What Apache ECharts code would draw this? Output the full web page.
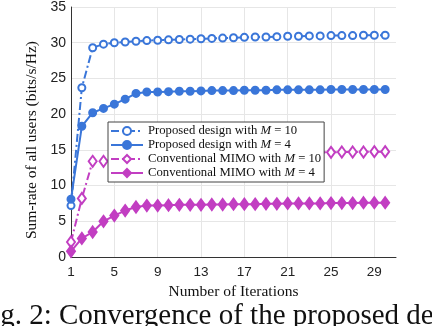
<!DOCTYPE html>
<html>
<head>
<meta charset="utf-8">
<script src="https://cdn.jsdelivr.net/npm/echarts@6/dist/echarts.min.js"></script>
<style>
  html, body { margin: 0; padding: 0; background: #fff; }
  #chart { width: 432px; height: 326px; }
</style>
</head>
<body>
<div id="chart"></div>
<script>
var iterations = []
for (var i = 1; i <= 30; i++) iterations.push(i)

var xTicks = [1, 5, 9, 13, 17, 21, 25, 29]
var yTicks = [0, 5, 10, 15, 20, 25, 30, 35]

var proposedM10 = [7.2, 23.7, 29.3, 29.8, 30.0, 30.1, 30.2, 30.3, 30.35, 30.4, 30.45, 30.5, 30.55, 30.6, 30.65, 30.7, 30.75, 30.8, 30.8, 30.85, 30.9, 30.9, 30.95, 30.95, 31.0, 31.0, 31.0, 31.05, 31.05, 31.05]
var proposedM4 = [8.1, 18.3, 20.2, 20.8, 21.4, 22.1, 22.9, 23.1, 23.1, 23.15, 23.2, 23.2, 23.25, 23.3, 23.3, 23.3, 23.35, 23.35, 23.35, 23.4, 23.4, 23.4, 23.4, 23.4, 23.45, 23.45, 23.45, 23.45, 23.45, 23.45]
var conventionalM10 = [2.1, 8.2, 13.4, 13.4, 13.6, 13.7, 13.8, 13.9, 14.0, 14.1, 14.15, 14.2, 14.25, 14.3, 14.35, 14.4, 14.4, 14.45, 14.5, 14.5, 14.55, 14.6, 14.6, 14.65, 14.65, 14.7, 14.7, 14.7, 14.75, 14.75]
var conventionalM4 = [0.8, 2.6, 3.5, 5.0, 5.8, 6.5, 7.0, 7.2, 7.2, 7.25, 7.3, 7.3, 7.3, 7.35, 7.35, 7.4, 7.4, 7.4, 7.45, 7.45, 7.5, 7.5, 7.5, 7.5, 7.55, 7.55, 7.55, 7.6, 7.6, 7.6]

var names = [
  'Proposed design with {i|M} = 10',
  'Proposed design with {i|M} = 4',
  'Conventional MIMO with {i|M} = 10',
  'Conventional MIMO with {i|M} = 4'
]

var blue = '#3a76d9'
var magenta = '#c23ec2'
var dashDot = [8, 3, 2, 3]
var serif = '"Liberation Serif", "DejaVu Serif", serif'
var sans = '"Liberation Sans", Arial, sans-serif'

function pairs (vals) {
  return vals.map(function (v, k) { return [iterations[k], v] })
}

function makeSeries (name, vals, color, dashed, symbol, size) {
  return {
    name: name,
    type: 'line',
    data: pairs(vals),
    symbol: symbol,
    symbolSize: size,
    showAllSymbol: true,
    lineStyle: { color: color, width: 2, type: dashed ? dashDot : 'solid' },
    itemStyle: { color: color, borderColor: color, borderWidth: 2 },
    animation: false
  }
}

var chart = echarts.init(document.getElementById('chart'))
chart.setOption({
  backgroundColor: '#fff',
  grid: { left: 71, right: 36, top: 6, bottom: 69 },
  legend: {
    orient: 'vertical',
    left: 108,
    top: 122,
    padding: [2, 3, 2, 2],
    itemGap: 0,
    itemWidth: 32,
    itemHeight: 10,
    backgroundColor: '#fff',
    borderColor: '#444',
    borderWidth: 1,
    data: names,
    textStyle: {
      fontFamily: serif,
      fontSize: 12.7,
      color: '#111',
      lineHeight: 14,
      rich: { i: { fontFamily: serif, fontStyle: 'italic', fontSize: 12.7, color: '#111' } }
    }
  },
  xAxis: {
    type: 'value',
    min: 1,
    max: 31,
    interval: 4,
    name: 'Number of Iterations',
    nameLocation: 'middle',
    nameGap: 17,
    nameTextStyle: { fontFamily: serif, fontSize: 15.5, color: '#111' },
    axisLine: { lineStyle: { color: '#333', width: 1 } },
    axisTick: { show: false },
    axisLabel: {
      fontFamily: sans, fontSize: 13.5, color: '#222', margin: 8,
      formatter: function (v) { return xTicks.indexOf(v) >= 0 ? String(v) : '' }
    },
    splitLine: { show: true, showMinLine: false, showMaxLine: false, lineStyle: { color: '#e6e6e6' } }
  },
  yAxis: {
    type: 'value',
    min: 0,
    max: 35,
    interval: 5,
    name: 'Sum-rate of all users (bits/s/Hz)',
    nameLocation: 'middle',
    nameGap: 18,
    nameTextStyle: { fontFamily: serif, fontSize: 15.5, color: '#111', padding: [0, 16, 0, 0] },
    axisLine: { show: true, lineStyle: { color: '#333', width: 1 } },
    axisTick: { show: false },
    axisLabel: {
      fontFamily: sans, fontSize: 14, color: '#222', margin: 5,
      formatter: function (v) { return yTicks.indexOf(v) >= 0 ? String(v) : '' }
    },
    splitLine: { show: true, showMinLine: false, lineStyle: { color: '#e6e6e6' } }
  },
  graphic: [{
    type: 'text',
    left: -24,
    top: 302,
    style: {
      text: 'Fig. 2: Convergence of the proposed design',
      fontFamily: serif,
      fontSize: 29,
      fill: '#111'
    }
  }],
  series: [
    makeSeries(names[0], proposedM10, blue, true, 'emptyCircle', 7),
    makeSeries(names[1], proposedM4, blue, false, 'circle', 7),
    makeSeries(names[2], conventionalM10, magenta, true, 'emptyDiamond', [8, 11]),
    makeSeries(names[3], conventionalM4, magenta, false, 'diamond', [8, 11])
  ]
})
</script>
</body>
</html>
